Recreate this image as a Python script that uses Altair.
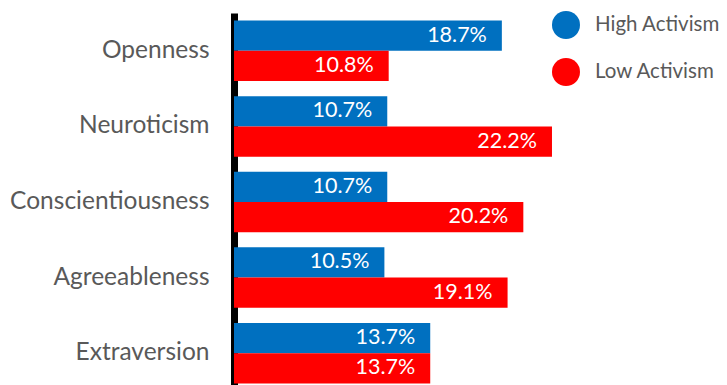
import altair as alt
import pandas as pd

categories = ["Openness", "Neuroticism", "Conscientiousness", "Agreeableness", "Extraversion"]
high_activism = [18.7, 10.7, 10.7, 10.5, 13.7]
low_activism = [10.8, 22.2, 20.2, 19.1, 13.7]
series = ["High Activism", "Low Activism"]
colors = ["#0070C0", "#FF0000"]

rows = []
for c, h, l in zip(categories, high_activism, low_activism):
    rows.append({"category": c, "group": series[0], "value": h, "label": f"{h:.1f}%"})
    rows.append({"category": c, "group": series[1], "value": l, "label": f"{l:.1f}%"})
df = pd.DataFrame(rows)

y = alt.Y("category:N", sort=categories, title=None,
          scale=alt.Scale(paddingInner=0.2, paddingOuter=0.1),
          axis=alt.Axis(domainColor="black", domainWidth=7, ticks=False,
                        labelFontSize=24.5, labelColor="#595959", labelFont="Lato",
                        labelPadding=25, labelLimit=400, grid=False))
x = alt.X("value:Q", title=None, scale=alt.Scale(domain=[0, 34], nice=False),
          axis=None)
yoff = alt.YOffset("group:N", sort=series)

bars = alt.Chart(df).mark_bar().encode(
    x=x, y=y, yOffset=yoff,
    color=alt.Color("group:N", sort=series,
                    scale=alt.Scale(domain=series, range=colors),
                    legend=alt.Legend(title=None, orient="none", legendX=318, legendY=-2,
                                      symbolType="circle", symbolSize=784,
                                      symbolStrokeWidth=0, symbolOpacity=1,
                                      labelFontSize=20.5, labelFont="Lato",
                                      labelColor="#595959", labelOffset=15,
                                      labelLimit=300, rowPadding=19)),
)

text = alt.Chart(df).mark_text(align="right", baseline="middle", dx=-15,
                               color="white", fontSize=21.5, font="Lato").encode(
    x=x, y=y, yOffset=yoff, text="label:N")

chart = (bars + text).properties(
    width=487, height=378,
    autosize=alt.AutoSizeParams(type="none"),
    padding={"left": 234, "top": 13, "right": 6, "bottom": 0},
).configure_view(stroke=None)

chart.save("out.html", embed_options={"renderer": "svg", "actions": False})
